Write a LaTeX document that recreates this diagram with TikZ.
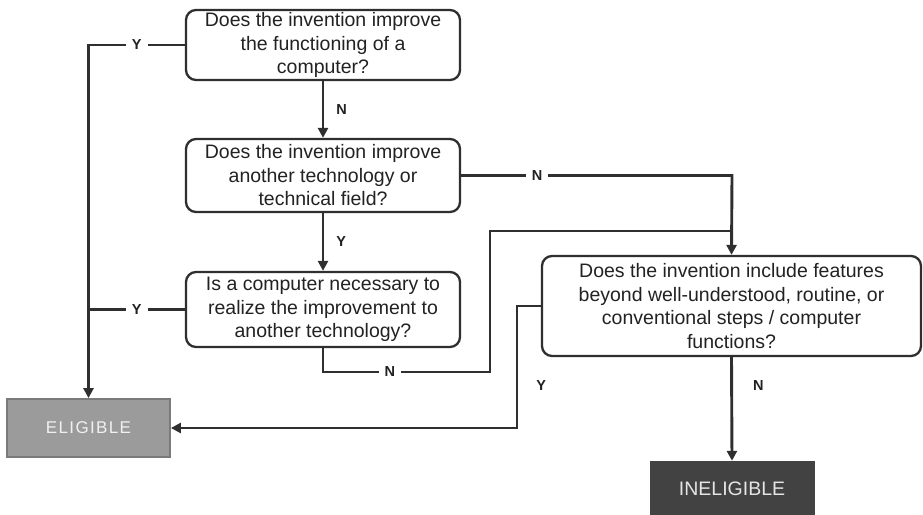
\documentclass[tikz,border=0pt]{standalone}
\usepackage{fontspec}
\setmainfont{Liberation Sans}
\usetikzlibrary{arrows.meta,positioning}
\definecolor{ptline}{HTML}{2F2F2F}
\definecolor{pttext}{HTML}{222222}
\definecolor{ptelig}{HTML}{9B9B9B}
\definecolor{ptineli}{HTML}{424242}

\tikzset{
  question/.style={draw=ptline, line width=2.3pt, rounded corners=10pt, fill=white,
    text=pttext, align=center, inner sep=0pt, font=\fontsize{19.5}{23.5}\selectfont},
  flow/.style={draw=ptline, line width=2.9pt},
  flowarrow/.style={flow, -{Triangle[length=10pt,width=10pt]}},
  answer/.style={fill=white, text=pttext, inner xsep=6pt, inner ysep=2pt,
    font=\fontsize{14.5}{16}\selectfont\bfseries},
}

\begin{document}
\begin{tikzpicture}[x=1pt, y=-1pt]
  \useasboundingbox (0,0) rectangle (923,514);

  % Questions
  \node[question, minimum width=274pt, minimum height=70pt] (qcomp) at (323,45) {
    Does the invention improve\\
    the functioning of a\\
    computer?
  };

  \node[question, minimum width=274pt, minimum height=73pt] (qtech) at (323,175.5) {
    Does the invention improve\\
    another technology or\\
    technical field?
  };

  \node[question, minimum width=274pt, minimum height=75pt] (qneed) at (323,309.5) {
    Is a computer necessary to\\
    realize the improvement to\\
    another technology?
  };

  \node[question, minimum width=379pt, minimum height=100pt] (qroutine) at (731.5,306) {
    Does the invention include features\\
    beyond well-understood, routine, or\\
    conventional steps / computer\\
    functions?
  };

  % Outcomes
  \node[draw=black!52, line width=1.8pt, fill=ptelig, minimum width=163pt, minimum height=58pt,
    text=white!94!black, font=\fontsize{17}{19}\selectfont\addfontfeature{LetterSpace=8}] (elig) at (88.5,428) {ELIGIBLE};

  \node[draw=ptineli, fill=ptineli, minimum width=164pt, minimum height=55pt,
    text=white!90!black, font=\fontsize{19.5}{22}\selectfont] (inelig) at (732,488.5) {INELIGIBLE};

  % Joints
  \coordinate (nbend) at (732,175.5);
  \coordinate (nlow1) at (323,372);
  \coordinate (nlow2) at (490,372);
  \coordinate (nlow3) at (490,231);
  \coordinate (njoin) at (732,231);
  \coordinate (ybend1) at (517,306);
  \coordinate (ybend2) at (517,428);

  % Arrows
  \draw[flowarrow] (qcomp.west) -| node[answer, pos=0.25] {Y} (elig.north);
  \draw[flow] (qneed.west) -- node[answer] {Y} (qneed.west -| elig.north);

  \draw[flowarrow] (qcomp) -- node[answer, right=6pt] {N} (qtech);
  \draw[flowarrow] (qtech) -- node[answer, right=6pt] {Y} (qneed);

  \draw[flowarrow] (qtech.east) -- node[answer, pos=0.28] {N} (nbend) -- (qroutine.north);
  \draw[flow] (qneed.south) -- (nlow1) -- node[answer, pos=0.4] {N} (nlow2) -- (nlow3) -- (njoin);

  \draw[flowarrow] (qroutine.west) -- (ybend1) -- node[answer, pos=0.65, right=12pt] {Y} (ybend2) -- (elig.east);
  \draw[flowarrow] (qroutine.south) -- node[answer, pos=0.27, right=14pt] {N} (inelig.north);
\end{tikzpicture}
\end{document}
